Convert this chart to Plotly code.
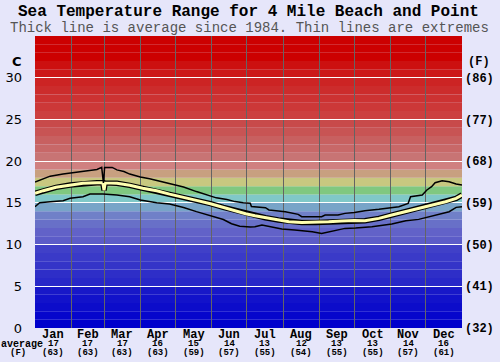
import plotly.graph_objects as go

# ---------------- data ----------------
months = ["Jan", "Feb", "Mar", "Apr", "May", "Jun", "Jul", "Aug", "Sep", "Oct", "Nov", "Dec"]
month_avg_c = [17, 17, 17, 16, 15, 14, 13, 12, 13, 13, 14, 16]
month_avg_f = [63, 63, 63, 63, 59, 57, 55, 54, 55, 55, 57, 61]
month_days = [31, 28, 31, 30, 31, 30, 31, 31, 30, 31, 30, 31]

c_ticks = [0, 5, 10, 15, 20, 25, 30]
f_tick_labels = ["(32)", "(41)", "(50)", "(59)", "(68)", "(77)", "(86)"]

max_days = [0, 7, 13, 24, 30, 41, 47, 53, 57, 58.5, 59.5, 66, 70, 76, 81, 90, 98, 107, 118, 127,
            138, 147, 155, 164, 171, 178, 184, 185, 197, 200, 214, 225, 228, 245, 248, 259, 265,
            273, 282, 294, 302, 311, 319, 321, 331, 335, 339, 342, 348, 354, 360, 365]
max_vals = [17.5, 17.9, 18.2, 18.45, 18.55, 18.75, 18.85, 19.0, 19.25, 17.4, 19.25, 19.25, 18.95,
            18.75, 18.45, 18.1, 17.9, 17.6, 17.2, 16.9, 16.35, 15.95, 15.6, 15.4, 15.15, 15.0, 14.95,
            14.55, 14.42, 14.15, 13.94, 13.62, 13.34, 13.34, 13.54, 13.54, 13.74, 13.84, 14.06,
            14.22, 14.34, 14.54, 14.94, 15.74, 15.94, 16.54, 16.94, 17.42, 17.66, 17.54, 17.26, 17.14]

avg_days = [0, 7, 18, 30, 41, 53, 58, 59, 60, 70, 81, 92, 104, 115, 127, 138, 150, 161, 172, 180,
            188, 197, 208, 217, 228, 240, 251, 262, 273, 282, 294, 305, 317, 328, 340, 351, 360, 365]
avg_vals = [16.14, 16.46, 16.86, 17.14, 17.34, 17.42, 17.42, 16.5, 17.4, 17.34, 17.1, 16.75, 16.45,
            16.05, 15.7, 15.3, 14.9, 14.45, 14.06, 13.7, 13.46, 13.22, 12.94, 12.74, 12.66, 12.66,
            12.74, 12.82, 12.9, 12.86, 13.14, 13.54, 13.94, 14.34, 14.74, 15.14, 15.54, 15.94]

min_days = [0, 4, 13, 24, 30, 41, 47, 58, 70, 81, 90, 104, 115, 127, 138, 150, 161, 168, 175, 184,
            188, 194, 202, 211, 222, 237, 245, 257, 265, 274, 288, 305, 317, 328, 342, 354, 360, 365]
min_vals = [14.54, 15.02, 15.14, 15.26, 15.54, 15.74, 16.06, 16.06, 15.94, 15.74, 15.35, 15.0, 14.85,
            14.45, 13.95, 13.5, 13.0, 12.5, 12.2, 12.1, 12.14, 12.34, 12.14, 11.86, 11.74, 11.54,
            11.34, 11.74, 11.94, 12.0, 12.14, 12.46, 12.86, 13.02, 13.54, 13.94, 14.46, 14.54]

# one colour per 1 degree C band, from 0 upward
band_colors = [
    "rgb(0,0,204)", "rgb(6,6,204)", "rgb(12,12,202)", "rgb(18,18,202)", "rgb(24,24,200)",
    "rgb(40,40,200)", "rgb(46,46,200)", "rgb(52,52,200)", "rgb(58,58,200)", "rgb(64,64,200)",
    "rgb(92,92,200)", "rgb(98,98,200)", "rgb(104,112,200)", "rgb(112,128,200)", "rgb(120,164,200)",
    "rgb(128,200,200)", "rgb(128,200,128)", "rgb(200,200,128)", "rgb(200,160,128)", "rgb(208,128,128)",
    "rgb(200,116,116)", "rgb(200,104,104)", "rgb(200,96,96)", "rgb(200,84,84)", "rgb(200,74,74)",
    "rgb(204,64,64)", "rgb(204,56,56)", "rgb(204,50,50)", "rgb(204,44,44)", "rgb(204,36,36)",
    "rgb(204,24,24)", "rgb(204,16,16)", "rgb(204,0,0)", "rgb(204,0,0)", "rgb(204,0,0)",
]

# ---------------- figure ----------------
month_edges = [0]
for d in month_days:
    month_edges.append(month_edges[-1] + d)
month_mid = [(month_edges[i] + month_edges[i + 1]) / 2 for i in range(12)]

MONO = "Liberation Mono"
BG = "rgb(230,230,250)"

fig = go.Figure()

fig.add_trace(go.Scatter(x=avg_days, y=avg_vals, mode="lines",
                         line=dict(color="black", width=5.5), hoverinfo="skip", showlegend=False))
fig.add_trace(go.Scatter(x=avg_days, y=avg_vals, mode="lines",
                         line=dict(color="rgb(255,255,176)", width=3), hoverinfo="skip", showlegend=False))
fig.add_trace(go.Scatter(x=max_days, y=max_vals, mode="lines",
                         line=dict(color="black", width=1.5), hoverinfo="skip", showlegend=False))
fig.add_trace(go.Scatter(x=min_days, y=min_vals, mode="lines",
                         line=dict(color="black", width=1.5), hoverinfo="skip", showlegend=False))
# invisible trace to anchor the Fahrenheit axis
fig.add_trace(go.Scatter(x=[0], y=[0], yaxis="y2", mode="markers", marker=dict(opacity=0),
                         hoverinfo="skip", showlegend=False))

shapes = []
for i, c in enumerate(band_colors):
    shapes.append(dict(type="rect", xref="paper", yref="y", x0=0, x1=1, y0=i, y1=i + 1,
                       fillcolor=c, line=dict(width=0), layer="below"))

annotations = [
    dict(text="<b>Sea Temperature Range for 4 Mile Beach and Point</b>", xref="paper", yref="paper",
         x=(248 - 35) / 427, y=(328 - 12) / 292, xanchor="center", yanchor="middle", showarrow=False,
         font=dict(family=MONO, size=16, color="black")),
    dict(text="Thick line is average since 1984. Thin lines are extremes", xref="paper", yref="paper",
         x=(249 - 35) / 427, y=(328 - 28) / 292, xanchor="center", yanchor="middle", showarrow=False,
         font=dict(family=MONO, size=14, color="rgb(85,85,85)")),
    dict(text="<b>C</b>", xref="paper", yref="paper", x=-18 / 427, y=(328 - 61) / 292,
         xanchor="center", yanchor="middle", showarrow=False,
         font=dict(family="DejaVu Sans", size=13, color="black")),
    dict(text="<b>(F)</b>", xref="paper", yref="paper", x=(479 - 35) / 427, y=(328 - 62) / 292,
         xanchor="center", yanchor="middle", showarrow=False,
         font=dict(family=MONO, size=12, color="black")),
    dict(text="<b>average</b>", xref="paper", yref="paper", x=(22 - 35) / 427, y=(328 - 344) / 292,
         xanchor="center", yanchor="middle", showarrow=False, borderpad=0,
         font=dict(family=MONO, size=10, color="black")),
    dict(text="<b>(F)</b>", xref="paper", yref="paper", x=(18 - 35) / 427, y=(328 - 353) / 292,
         xanchor="center", yanchor="middle", showarrow=False, borderpad=0,
         font=dict(family=MONO, size=9, color="black")),
]
for i in range(12):
    annotations.append(dict(text="<b>%s</b>" % months[i], xref="x", yref="paper", x=month_mid[i],
                            y=(328 - 334.5) / 292, xanchor="center", yanchor="middle", showarrow=False,
                            borderpad=0, font=dict(family=MONO, size=12, color="black")))
    annotations.append(dict(text="<b>%d</b>" % month_avg_c[i], xref="x", yref="paper", x=month_mid[i],
                            y=(328 - 344) / 292, xanchor="center", yanchor="middle", showarrow=False,
                            borderpad=0, font=dict(family=MONO, size=9, color="black")))
    annotations.append(dict(text="<b>(%d)</b>" % month_avg_f[i], xref="x", yref="paper", x=month_mid[i],
                            y=(328 - 353) / 292, xanchor="center", yanchor="middle", showarrow=False,
                            borderpad=0, font=dict(family=MONO, size=9, color="black")))

fig.update_layout(
    width=500, height=362,
    margin=dict(l=35, r=38, t=36, b=34, autoexpand=False),
    paper_bgcolor=BG, plot_bgcolor=BG,
    showlegend=False,
    shapes=shapes,
    annotations=annotations,
    xaxis=dict(range=[0, 365], tickvals=month_edges[1:-1], showticklabels=False, ticks="",
               showgrid=True, gridcolor="rgb(100,100,100)", gridwidth=1, zeroline=False,
               showline=False, fixedrange=True, automargin=False),
    yaxis=dict(range=[0, 35], tickvals=c_ticks, ticktext=[str(v) for v in c_ticks], ticks="",
               showgrid=True, gridcolor="white", gridwidth=1, zeroline=False, showline=False,
               automargin=False, fixedrange=True,
               tickfont=dict(family="DejaVu Sans", size=13, color="black"), ticklabelstandoff=12),
    yaxis2=dict(range=[0, 35], overlaying="y", side="right", tickvals=c_ticks, ticktext=f_tick_labels,
                ticks="", showgrid=False, zeroline=False, showline=False, automargin=False,
                fixedrange=True,
                tickfont=dict(family=MONO, size=12, color="black", weight="bold"), ticklabelstandoff=2),
)

fig.write_html("out.html", config={"displayModeBar": False},
               post_script="document.body.style.margin='0';document.body.style.padding='0';")
